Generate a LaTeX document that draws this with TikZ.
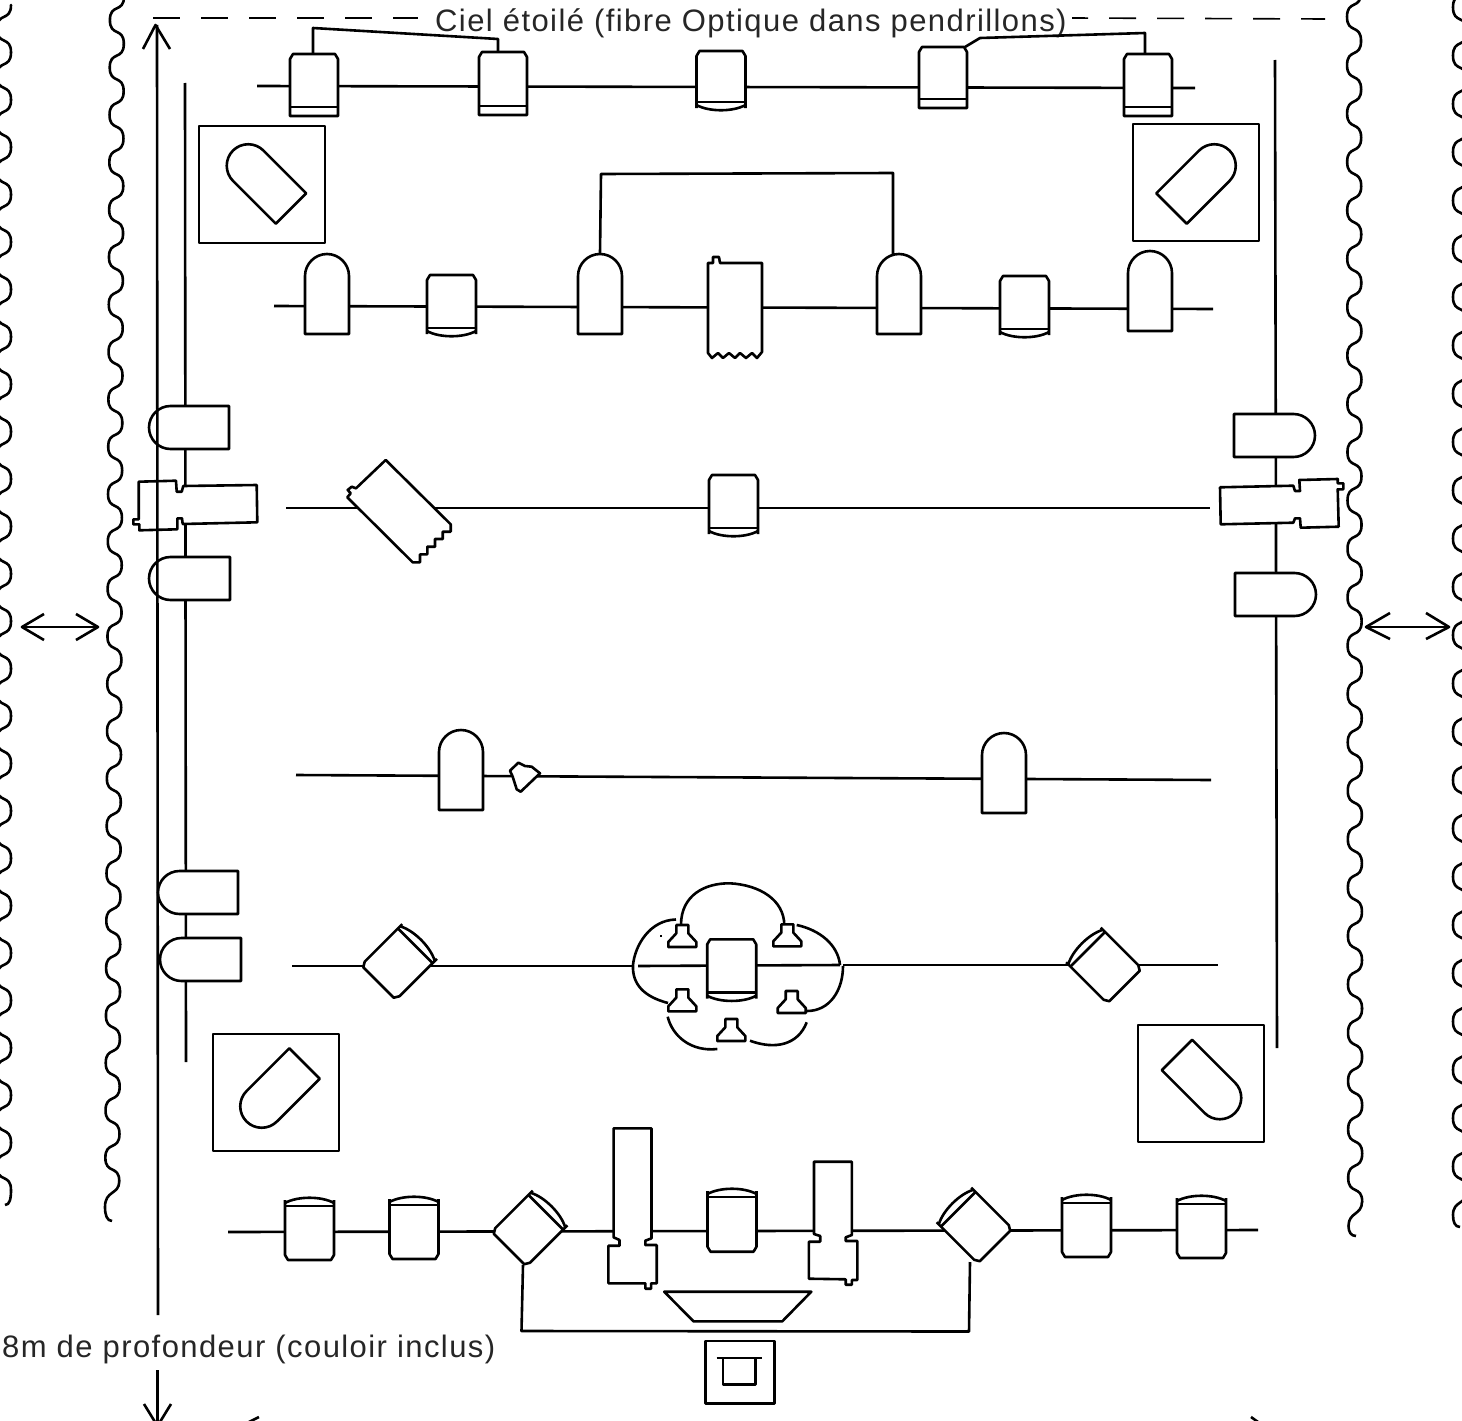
\documentclass[tikz,border=0pt]{standalone}
\usepackage{fontspec}
\setmainfont{Liberation Sans}
\newfontfamily\lblfont[LetterSpace=4.6]{Liberation Sans}
\tikzset{
  ln/.style={line width=2.6pt,line join=round,draw=black},
  fx/.style={ln,fill=white},
  lbl/.style={anchor=base west,inner sep=0pt,text=black!85,font=\lblfont\fontsize{31}{37}\selectfont},
  thin dash/.style={line width=1.6pt,dash pattern=on 27pt off 21pt}
}
% dome lamp: base centre x,y; rotation; width; length
\newcommand\domelamp[5]{%
  \begin{scope}[shift={(#1,#2)},rotate=#3]
    \pgfmathsetmacro\hw{#4/2}\pgfmathsetmacro\ys{#5-\hw}\pgfmathsetmacro\kk{0.55*\hw}
    \draw[fx] (-\hw,0) -- (-\hw,-\ys) .. controls (-\hw,{-\ys-\kk}) and (-\kk,-#5) .. (0,-#5)
      .. controls (\kk,-#5) and (\hw,{-\ys-\kk}) .. (\hw,-\ys) -- (\hw,0) -- cycle;
  \end{scope}}
% lens box: back centre x,y; rotation; depth
\newcommand\lensbox[4]{%
  \begin{scope}[shift={(#1,#2)},rotate=#3]
    \fill[white] (-21.5,0) -- (21.5,0) -- (24.5,5) -- (24.5,{#4+3}) .. controls (12,{#4+10}) and (-12,{#4+10}) .. (-24.5,{#4+3}) -- (-24.5,5) -- cycle;
    \draw[ln] (-24.5,{#4+6}) -- (-24.5,5) -- (-21.5,0) -- (21.5,0) -- (24.5,5) -- (24.5,{#4+6});
    \draw[ln] (-24.5,#4) -- (24.5,#4);
    \draw[ln] (-24.5,{#4+3}) .. controls (-12,{#4+10}) and (12,{#4+10}) .. (24.5,{#4+3});
  \end{scope}}
% bar lamp: back centre x,y; height
\newcommand\barlamp[3]{%
  \begin{scope}[shift={(#1,#2)}]
    \draw[fx] (-24,#3) -- (-24,5) -- (-21,0) -- (21,0) -- (24,5) -- (24,#3) -- cycle;
    \draw[ln] (-24,{#3-9}) -- (24,{#3-9});
  \end{scope}}
% speaker: top centre x,y
\newcommand\speaker[2]{%
  \begin{scope}[shift={(#1,#2)}]
    \draw[fx] (-6,0) -- (6,0) -- (6,8.3) -- (14,17) -- (14,22) -- (-14,22) -- (-14,17) -- (-6,8.3) -- cycle;
  \end{scope}}
% curtain: left x at y=0; width; slope; first right extreme y; period; periods
\newcommand\curtain[6]{%
  \foreach \k in {1,...,#6}{%
    \pgfmathsetmacro\ya{#4+(\k-1)*#5}\pgfmathsetmacro\yb{\ya+#5/2}\pgfmathsetmacro\yc{\ya+#5}
    \pgfmathsetmacro\xa{#1+#3*\ya+#2}\pgfmathsetmacro\xb{#1+#3*\yb}\pgfmathsetmacro\xc{#1+#3*\yc+#2}
    \pgfmathsetmacro\hh{0.36*#5}
    \draw[ln,line cap=round] (\xa,\ya) .. controls (\xa,\ya+\hh) and (\xb,\yb-\hh) .. (\xb,\yb)
      .. controls (\xb,\yb+\hh) and (\xc,\yc-\hh) .. (\xc,\yc);
  }}
\begin{document}
\begin{tikzpicture}[x=1pt,y=-1pt]
\useasboundingbox (0,0) rectangle (1462,1421);
\clip (0,0) rectangle (1462,1421);
\fill[white] (0,0) rectangle (1462,1421);

% curtains
\curtain{-3}{14}{0}{5}{47.4}{25}
\draw[ln] (11,1190) .. controls (11,1198) and (10,1205) .. (5,1205);
\curtain{110}{14}{-0.004}{-3.6}{47.4}{25}
\draw[ln] (119.3,1181.4) .. controls (119,1195) and (105,1190) .. (105,1207) .. controls (105,1215) and (107,1221) .. (112,1221);
\curtain{1347}{14}{0.001}{-7.4}{48.375}{25}
\draw[ln] (1362,1202) .. controls (1362,1215) and (1348.5,1212) .. (1348.5,1226) .. controls (1348.5,1232) and (1351,1236) .. (1356,1236);
\curtain{1453}{14}{0}{-16.9}{48.3}{25}
\draw[ln] (1467,1190.6) .. controls (1467,1205) and (1453,1200) .. (1453,1215) .. controls (1453,1222) and (1455,1227) .. (1460,1227);

% side arrows
\draw[ln] (22,627) -- (98,627);
\draw[ln] (44,614) -- (22,627) -- (44,640);
\draw[ln] (76,614) -- (98,627) -- (76,640);
\draw[ln] (1366,627) -- (1449,627);
\draw[ln] (1390,613) -- (1366,627) -- (1390,639);
\draw[ln] (1426,613) -- (1449,627) -- (1426,639);

% sky line and labels
\draw[thin dash] (153,18) -- (418,18);
\draw[thin dash,dash phase=11pt] (1072,18) -- (1325,19);
\node[lbl] (ciel) at (435,32) {Ciel étoilé (fibre Optique dans pendrillons)};
\node[lbl] (prof) at (2,1357) {8m de profondeur (couloir inclus)};

% bars
\draw[ln] (257,86) -- (1195,88);
\draw[ln] (274,306) -- (1213,309);
\draw[ln] (286,508) -- (1210,508);
\draw[ln] (296,775) -- (1211,780);
\draw[ln] (292,966) -- (633,966);
\draw[ln] (638,966) -- (840,965);
\draw[ln] (843,965) -- (1218,965);
\draw[ln] (228,1232) -- (1258,1230);
\draw[ln] (185,83) -- (186,1062);
\draw[ln] (1275,60) -- (1277,1048);

% top row cables
\draw[ln] (313,54) -- (313,28) -- (498,39) -- (498,55);
\draw[ln] (965,47) -- (980,38) -- (1145,33) -- (1145,54);
\barlamp{314}{54}{62}
\barlamp{503}{52}{63}
\lensbox{721}{51}{0}{51}
\barlamp{943}{47}{61}
\barlamp{1148}{54}{62}

% corner boxes
\draw[ln] (199,126) rectangle (325,243);
\domelamp{291}{208.5}{45}{43}{82}
\draw[ln] (1133,124) rectangle (1259,241);
\domelamp{1171.5}{208.5}{-45}{43}{82}
\draw[ln] (213,1034) rectangle (339,1151);
\domelamp{304.5}{1063.5}{135}{43}{82}
\draw[ln] (1138,1025) rectangle (1264,1142);
\domelamp{1177}{1055}{-135}{43}{82}

% second row
\draw[ln] (600,253) -- (601,174) -- (893,173) -- (893,255);
\domelamp{327}{334}{0}{44}{80}
\lensbox{451.5}{275}{0}{53}
\domelamp{600}{334}{0}{44}{80}
\draw[fx] (708,263) -- (713,263) -- (713,257) -- (719,257) -- (720,263) -- (762,263) -- (762,352) -- (757,358) -- (752,353) -- (746,358) -- (740,353) -- (735,358) -- (729,353) -- (723,358) -- (718,353) -- (712,358) -- (708,353) -- cycle;
\domelamp{899}{334}{0}{44}{80}
\lensbox{1024.5}{276}{0}{53}
\domelamp{1150}{331}{0}{44}{80}

% third row
\draw[fx] (385.7,460) -- (356,488.3) -- (351.7,486.7) -- (347.7,490) -- (350.7,493.3) -- (347.3,497.3) -- (412.7,562.3) -- (420,562.3) -- (420,554.3) -- (427.3,554.3) -- (427.3,546.7) -- (435,546.7) -- (435,539) -- (442.7,539) -- (442.7,531.7) -- (450.7,531.7) -- (450.7,524.3) -- cycle;
\lensbox{733.5}{475}{0}{53}

% left wall
\domelamp{229}{427.5}{90}{43}{80}
\draw[fx] (256.7,485) -- (183.3,486) -- (181.7,491.7) -- (176.7,491.7) -- (176,480.7) -- (138.7,481.7) -- (138.7,519.3) -- (133.3,519.3) -- (133.3,524.3) -- (139.3,524.3) -- (139.3,530.3) -- (177.3,529.3) -- (177.3,518.3) -- (182,518.3) -- (182.7,524) -- (257.3,522.3) -- cycle;
\domelamp{230}{578.5}{90}{43}{81}
\domelamp{238}{892.5}{90}{43}{80}
\domelamp{241}{959.5}{90}{43}{81}

% right wall
\domelamp{1234}{435.5}{-90}{43}{81}
\draw[fx] (1220,487.3) -- (1293.3,485.7) -- (1295,491) -- (1300,491) -- (1299.3,480) -- (1337.7,479) -- (1337.7,483.3) -- (1343.3,483.3) -- (1343.3,489.3) -- (1337.7,489.3) -- (1338.7,526.7) -- (1300.7,527.7) -- (1300,518.3) -- (1295,518.3) -- (1293.3,522.7) -- (1220.7,524.3) -- cycle;
\domelamp{1235}{594.5}{-90}{43}{81}

% fourth row
\domelamp{461}{810}{0}{44}{80}
\draw[fx] (510,770.7) -- (518.3,762.7) -- (525,766) -- (531.7,766.7) -- (540,773.3) -- (520.7,791.7) -- (516.7,789.3) -- (512.7,776.7) -- cycle;
\domelamp{1004}{813}{0}{44}{80}

% fifth row
\lensbox{378.5}{982.5}{135}{52}
\lensbox{1124.5}{986}{-135}{52}
\lensbox{731.7}{939.3}{0}{53.4}
\speaker{682.3}{925}
\speaker{787.3}{924.3}
\speaker{682.3}{989.3}
\speaker{791.7}{991}
\speaker{731.3}{1019}
\draw[ln] (681,925) .. controls (681,895) and (705,883) .. (730,883.3) .. controls (760,885) and (784,900) .. (784.3,925);
\draw[ln] (676,919.5) .. controls (650,920) and (635,945) .. (633,965) .. controls (632,985) and (645,997) .. (668,1003);
\draw[ln] (796.7,925) .. controls (820,930) and (838,945) .. (840,965);
\draw[ln] (843,966) .. controls (843,990) and (830,1011) .. (807,1011);
\draw[ln] (667.7,1016.7) .. controls (672,1035) and (690,1052) .. (717.3,1049);
\draw[ln] (750,1040.7) .. controls (775,1050) and (798,1045) .. (806.7,1022.3);
\fill (660,935) rectangle (662,937);

% bottom row
\draw[ln] (523,1265) -- (521.5,1331) -- (969,1331.5) -- (970,1262);
\lensbox{309.5}{1260}{180}{54}
\lensbox{414}{1259}{180}{54}
\lensbox{509}{1249}{135}{52}
\draw[fx] (613.6,1128.3) -- (651.5,1128.3) -- (651.5,1238.3) -- (645.3,1240.7) -- (645.3,1245) -- (656.7,1245) -- (656.7,1283.3) -- (651.1,1283.3) -- (651.1,1288.7) -- (645.3,1288.7) -- (645.3,1283.3) -- (608.4,1283.3) -- (608.4,1245.7) -- (619.5,1245.7) -- (619.5,1240) -- (613.6,1237.3) -- cycle;
\lensbox{732}{1251.7}{180}{54.7}
\draw[fx] (814,1161.7) -- (851.9,1161.7) -- (851.9,1235) -- (845.7,1237.3) -- (845.7,1241) -- (857.4,1241) -- (857.4,1280) -- (851.9,1280) -- (851.9,1284.7) -- (845.7,1284.7) -- (845.7,1279.3) -- (808.9,1278.7) -- (808.9,1241.7) -- (820.2,1241.7) -- (820.2,1236) -- (814,1234) -- cycle;
\lensbox{995}{1246}{-135}{52}
\lensbox{1086.5}{1257}{180}{54}
\lensbox{1201.5}{1258}{180}{54}

% console
\draw[ln] (664.2,1291.7) -- (811.3,1291.7) -- (782.3,1321.3) -- (693.5,1321.3) -- cycle;
\draw[ln] (705.5,1341) rectangle (774.4,1403.3);
\draw[ln] (716.6,1358) -- (761.7,1358);
\draw[ln] (722.8,1358) -- (722.8,1384.3) -- (755.5,1384.3) -- (755.5,1358);

% depth arrow
\draw[ln] (157,25) -- (158,1315);
\draw[ln] (143,49) -- (155.5,25) -- (170,49);
\draw[ln] (157.5,1370) -- (157.5,1424);
\draw[ln] (144,1404) -- (157.5,1426) -- (171,1404);
\draw[ln] (247,1423) -- (259,1417);
\draw[ln] (1251,1417) -- (1258,1422);
\end{tikzpicture}
\end{document}
